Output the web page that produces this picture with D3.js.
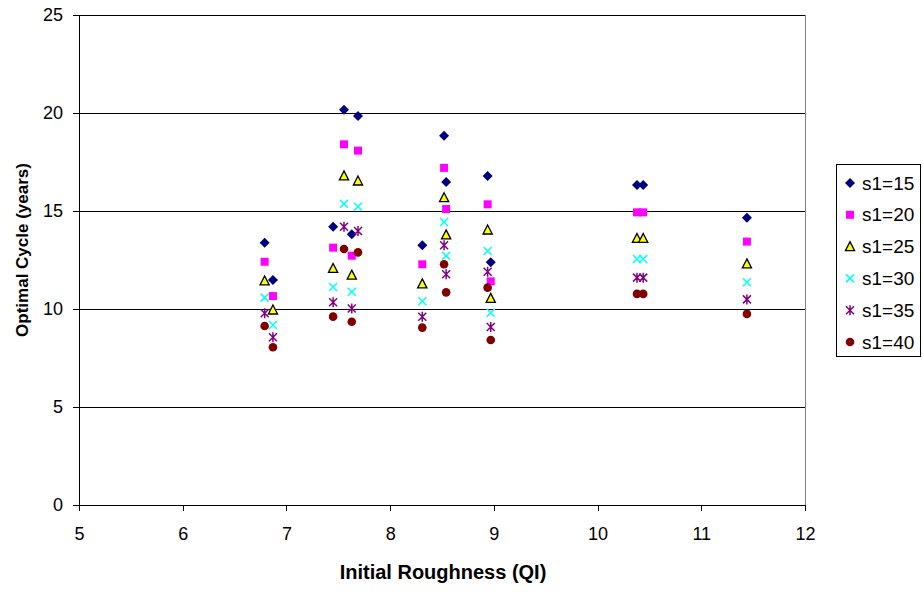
<!DOCTYPE html>
<html>
<head>
<meta charset="utf-8">
<script src="https://cdn.jsdelivr.net/npm/d3@7"></script>
<style>
  body { margin: 0; background: #fff; }
  svg { font-family: "Liberation Sans", Arial, sans-serif; }
</style>
</head>
<body>
<svg id="chart"></svg>
<script>
// x values (Initial Roughness QI), shared by every series
const roughness = [6.79, 6.87, 7.45, 7.555, 7.63, 7.69, 8.31, 8.52, 8.54, 8.94, 8.97, 10.38, 10.44, 11.44];

const s15 = [13.38, 11.48, 14.2, 20.17, 13.81, 19.85, 13.25, 18.84, 16.48, 16.79, 12.38, 16.33, 16.33, 14.66];
const s20 = [12.41, 10.66, 13.13, 18.4, 12.72, 18.08, 12.28, 17.2, 15.1, 15.34, 11.41, 14.93, 14.93, 13.44];
const s25 = [11.43, 9.95, 12.07, 16.79, 11.73, 16.53, 11.28, 15.68, 13.78, 14.03, 10.54, 13.6, 13.6, 12.3];
const s30 = [10.58, 9.18, 11.12, 15.37, 10.88, 15.22, 10.4, 14.44, 12.72, 12.96, 9.81, 12.55, 12.55, 11.36];
const s35 = [9.78, 8.56, 10.34, 14.2, 10.03, 13.98, 9.6, 13.25, 11.77, 11.9, 9.08, 11.6, 11.6, 10.49];
const s40 = [9.13, 8.05, 9.61, 13.06, 9.35, 12.89, 9.05, 12.28, 10.85, 11.09, 8.42, 10.77, 10.77, 9.75];

const seriesNames = ["s1=15", "s1=20", "s1=25", "s1=30", "s1=35", "s1=40"];
const seriesValues = [s15, s20, s25, s30, s35, s40];
const xTicks = [5, 6, 7, 8, 9, 10, 11, 12];
const yTicks = [0, 5, 10, 15, 20, 25];

const W = 923, H = 592;
const plot = { left: 79, right: 805, top: 15, bottom: 505 };

const svg = d3.select("#chart").attr("width", W).attr("height", H);

const x = d3.scaleLinear().domain([5, 12]).range([plot.left, plot.right]);
const y = d3.scaleLinear().domain([0, 25]).range([plot.bottom, plot.top]);

// gridlines
svg.append("g")
  .selectAll("line")
  .data(yTicks.filter(t => t > 0))
  .enter().append("line")
  .attr("x1", plot.left).attr("x2", plot.right)
  .attr("y1", d => y(d)).attr("y2", d => y(d))
  .attr("stroke", "#000").attr("stroke-width", 1)
  .attr("shape-rendering", "crispEdges");

// right border of plot area
svg.append("line")
  .attr("x1", plot.right).attr("x2", plot.right)
  .attr("y1", plot.top).attr("y2", plot.bottom)
  .attr("stroke", "#808080").attr("shape-rendering", "crispEdges");

// axes
const xAxis = svg.append("g")
  .attr("transform", `translate(0,${plot.bottom})`)
  .call(d3.axisBottom(x).tickValues(xTicks).tickFormat(d3.format("d"))
    .tickSize(6).tickSizeOuter(0).tickPadding(16));
const yAxis = svg.append("g")
  .attr("transform", `translate(${plot.left},0)`)
  .call(d3.axisLeft(y).tickValues(yTicks).tickFormat(d3.format("d"))
    .tickSize(6).tickSizeOuter(0).tickPadding(10));

[xAxis, yAxis].forEach(a => {
  a.select(".domain").attr("stroke", "#000").attr("shape-rendering", "crispEdges");
  a.selectAll(".tick line").attr("stroke", "#000").attr("shape-rendering", "crispEdges");
  a.selectAll(".tick text").attr("font-size", 18).attr("fill", "#000")
    .attr("font-family", "Liberation Sans, Arial, sans-serif");
});

// axis titles
svg.append("text")
  .attr("x", 443).attr("y", 579)
  .attr("text-anchor", "middle")
  .attr("font-size", 20).attr("font-weight", "bold")
  .text("Initial Roughness (QI)");
svg.append("text")
  .attr("transform", "translate(28,250) rotate(-90)")
  .attr("text-anchor", "middle")
  .attr("font-size", 17).attr("font-weight", "bold")
  .text("Optimal Cycle (years)");

// marker painters
const markers = [
  (g) => g.append("path").attr("d", "M0,-5L5,0L0,5L-5,0Z").attr("fill", "#000080"),
  (g) => g.append("rect").attr("x", -4).attr("y", -4).attr("width", 8).attr("height", 8).attr("fill", "#FF00FF"),
  (g) => g.append("path").attr("d", "M0,-5L4.6,4L-4.6,4Z").attr("fill", "#FFFF00").attr("stroke", "#000").attr("stroke-width", 1.3),
  (g) => g.append("path").attr("d", "M-4,-4L4,4M-4,4L4,-4").attr("stroke", "#00FFFF").attr("stroke-width", 1.5).attr("fill", "none"),
  (g) => g.append("path").attr("d", "M-4,-4L4,4M-4,4L4,-4M0,-5L0,5").attr("stroke", "#800080").attr("stroke-width", 1.5).attr("fill", "none"),
  (g) => g.append("circle").attr("r", 4.3).attr("fill", "#800000")
];

seriesValues.forEach((vals, i) => {
  const pts = vals.map((v, j) => ({ x: roughness[j], y: v }));
  svg.append("g").selectAll("g")
    .data(pts).enter().append("g")
    .attr("transform", d => `translate(${x(d.x)},${y(d.y)})`)
    .each(function () { markers[i](d3.select(this)); });
});

// legend
const legend = svg.append("g");
legend.append("rect")
  .attr("x", 836.5).attr("y", 164.5).attr("width", 84).attr("height", 192)
  .attr("fill", "#fff").attr("stroke", "#000");
seriesNames.forEach((name, i) => {
  const cy = 183 + i * 31.8;
  const g = legend.append("g").attr("transform", `translate(850,${cy})`);
  markers[i](g);
  legend.append("text")
    .attr("x", 862).attr("y", cy + 6.5)
    .attr("font-size", 19)
    .text(name);
});
</script>
</body>
</html>
